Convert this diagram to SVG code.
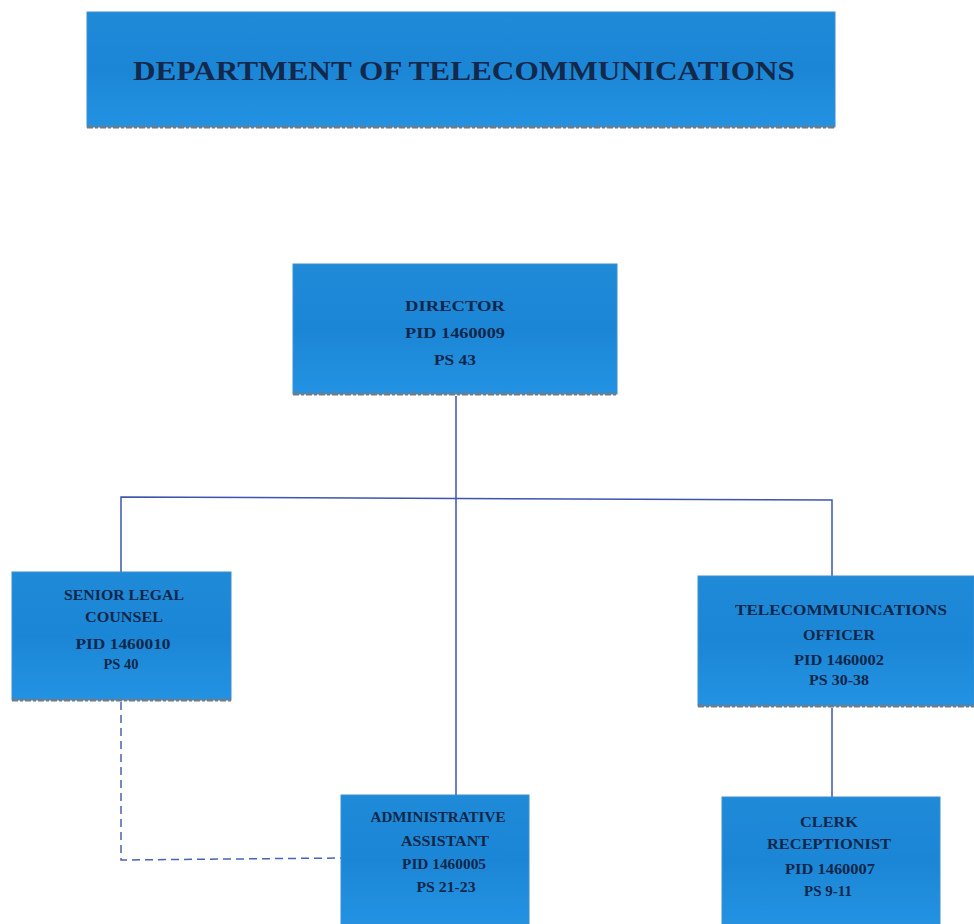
<svg xmlns="http://www.w3.org/2000/svg" width="974" height="924" viewBox="0 0 974 924">
<defs>
<linearGradient id="bg" x1="0" y1="0" x2="0" y2="1">
<stop offset="0" stop-color="#1f8ad8"/>
<stop offset="0.5" stop-color="#1c86d6"/>
<stop offset="1" stop-color="#2392e2"/>
</linearGradient>
<style>
.box{fill:url(#bg);stroke:#3a8fd0;stroke-width:1}
.sh{stroke:#6e7c88;stroke-width:3;stroke-dasharray:6 2 3 2}
.t{font-family:"Liberation Serif","DejaVu Serif",serif;font-weight:bold;fill:#10274a;text-anchor:middle;font-size:15px}
.title{font-family:"Liberation Serif","DejaVu Serif",serif;font-weight:bold;fill:#13294c;text-anchor:middle;font-size:28px}
.c{fill:none;stroke:#3d55ae;stroke-width:1.5}
.d{fill:none;stroke:#4a62b4;stroke-width:1.5;stroke-dasharray:8 5}
</style>
</defs>
<rect width="974" height="924" fill="#ffffff"/>
<g id="connectors">
<polyline class="c" points="456,396 456,795"/>
<polyline class="c" points="121,572 121,497 832,500 832,576"/>
<polyline class="c" points="832,708 832,797"/>
<polyline class="d" points="121,702 121,860 341,858"/>
</g>
<g id="title">
<rect class="box" x="87" y="12" width="748" height="115"/>
<line class="sh" x1="87" y1="127" x2="835" y2="127"/>
<text class="title" x="464" y="80" textLength="662" lengthAdjust="spacingAndGlyphs">DEPARTMENT OF TELECOMMUNICATIONS</text>
</g>
<g id="director">
<rect class="box" x="293" y="264" width="324" height="130"/>
<line class="sh" x1="293" y1="394" x2="617" y2="394"/>
<text class="t" x="455" y="311" textLength="100" lengthAdjust="spacingAndGlyphs">DIRECTOR</text>
<text class="t" x="455" y="338" textLength="100" lengthAdjust="spacingAndGlyphs">PID 1460009</text>
<text class="t" x="455" y="365" textLength="42" lengthAdjust="spacingAndGlyphs">PS 43</text>
</g>
<g id="senior-legal-counsel">
<rect class="box" x="12" y="572" width="219" height="128"/>
<line class="sh" x1="12" y1="700" x2="231" y2="700"/>
<text class="t" x="124" y="600" textLength="120" lengthAdjust="spacingAndGlyphs">SENIOR LEGAL</text>
<text class="t" x="124" y="622" textLength="78" lengthAdjust="spacingAndGlyphs">COUNSEL</text>
<text class="t" x="123" y="649" textLength="95" lengthAdjust="spacingAndGlyphs">PID 1460010</text>
<text class="t" x="121" y="669" textLength="35" lengthAdjust="spacingAndGlyphs">PS 40</text>
</g>
<g id="telecommunications-officer">
<rect class="box" x="698" y="576" width="276" height="130"/>
<line class="sh" x1="698" y1="706" x2="974" y2="706"/>
<text class="t" x="841" y="615" textLength="212" lengthAdjust="spacingAndGlyphs">TELECOMMUNICATIONS</text>
<text class="t" x="839" y="640" textLength="72" lengthAdjust="spacingAndGlyphs">OFFICER</text>
<text class="t" x="839" y="665" textLength="90" lengthAdjust="spacingAndGlyphs">PID 1460002</text>
<text class="t" x="839" y="685" textLength="60" lengthAdjust="spacingAndGlyphs">PS 30-38</text>
</g>
<g id="administrative-assistant">
<rect class="box" x="341" y="795" width="188" height="129"/>
<text class="t" x="438" y="822" textLength="135" lengthAdjust="spacingAndGlyphs">ADMINISTRATIVE</text>
<text class="t" x="445" y="846" textLength="88" lengthAdjust="spacingAndGlyphs">ASSISTANT</text>
<text class="t" x="444" y="869" textLength="84" lengthAdjust="spacingAndGlyphs">PID 1460005</text>
<text class="t" x="446" y="892" textLength="59" lengthAdjust="spacingAndGlyphs">PS 21-23</text>
</g>
<g id="clerk-receptionist">
<rect class="box" x="722" y="797" width="218" height="127"/>
<text class="t" x="829" y="827" textLength="58" lengthAdjust="spacingAndGlyphs">CLERK</text>
<text class="t" x="829" y="849" textLength="124" lengthAdjust="spacingAndGlyphs">RECEPTIONIST</text>
<text class="t" x="830" y="874" textLength="90" lengthAdjust="spacingAndGlyphs">PID 1460007</text>
<text class="t" x="828" y="896" textLength="48" lengthAdjust="spacingAndGlyphs">PS 9-11</text>
</g>
</svg>
